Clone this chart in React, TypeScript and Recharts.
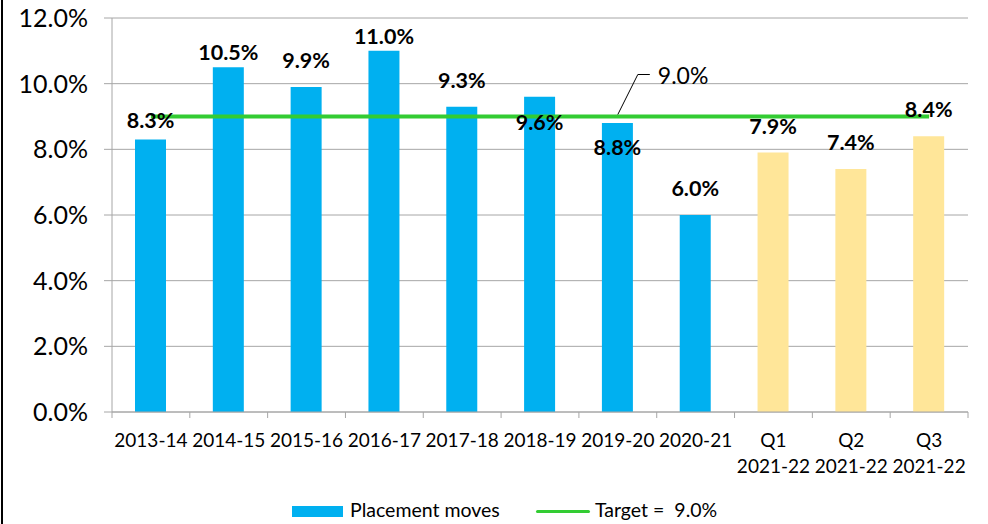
import React from 'react';
import { ComposedChart, Bar, Line, XAxis, YAxis, CartesianGrid, Cell, LabelList, Legend } from 'recharts';

const categories = [
  '2013-14', '2014-15', '2015-16', '2016-17', '2017-18', '2018-19',
  '2019-20', '2020-21', 'Q1\n2021-22', 'Q2\n2021-22', 'Q3\n2021-22',
];
const placementMoves = [8.3, 10.5, 9.9, 11.0, 9.3, 9.6, 8.8, 6.0, 7.9, 7.4, 8.4];
const targetValues = [9.0, 9.0, 9.0, 9.0, 9.0, 9.0, 9.0, 9.0, 9.0, 9.0, 9.0];
const yTicks = [0, 2, 4, 6, 8, 10, 12];

const FONT = 'Lato, "Open Sans", sans-serif';
const BLUE = '#00B0F0';
const YELLOW = '#FFE699';
const GREEN = '#33CC33';
const GRID = '#A6A6A6';
const BAND = (968 - 112) / categories.length;
const TARGET_LABEL_INDEX = 6;

// gap between label baseline and bar top (negative = drawn inside the bar)
const labelGap: Record<number, number> = { 0: 11, 1: 7, 3: 7, 5: -33, 6: -32 };

const data = categories.map((name, i) => ({
  name,
  value: placementMoves[i],
  target: targetValues[i],
}));

const pct = (v: number) => `${v.toFixed(1)}%`;

const XTick = (props: any) => {
  const { x, y, payload, index } = props;
  const lines = String(payload.value).split('\n');
  const axisY = y - 8;
  return (
    <g>
      <line x1={x - BAND / 2} y1={axisY} x2={x - BAND / 2} y2={axisY + 6} stroke={GRID} />
      {index === categories.length - 1 && (
        <line x1={x + BAND / 2} y1={axisY} x2={x + BAND / 2} y2={axisY + 6} stroke={GRID} />
      )}
      <text x={x} y={axisY + 35} textAnchor="middle" fontSize={19} fontFamily={FONT} fill="#000">
        {lines.map((l, i) => (
          <tspan key={i} x={x} dy={i === 0 ? 0 : 26}>{l}</tspan>
        ))}
      </text>
    </g>
  );
};

const BarLabel = (props: any) => {
  const { x, y, width, value, index } = props;
  const gap = labelGap[index] ?? 19;
  return (
    <text x={x + width / 2} y={y - gap} textAnchor="middle" fontSize={21.5} fontWeight="bold" fontFamily={FONT} fill="#000">
      {pct(value)}
    </text>
  );
};

const TargetLabel = (props: any) => {
  const { x, y, value, index } = props;
  if (index !== TARGET_LABEL_INDEX) return null;
  return (
    <g>
      <polyline points={`${x},${y - 2} ${x + 20},${y - 42} ${x + 32},${y - 42}`} fill="none" stroke="#000" strokeWidth={1} />
      <text x={x + 40} y={y - 33} fontSize={23} fontFamily={FONT} fill="#000">{pct(value)}</text>
    </g>
  );
};

const LegendContent = () => (
  <div style={{ position: 'relative', height: 26, fontFamily: FONT, fontSize: 19.5, color: '#000' }}>
    <div style={{ position: 'absolute', left: 292, top: 9, width: 51, height: 11, background: BLUE }} />
    <span style={{ position: 'absolute', left: 350, top: 1, whiteSpace: 'pre' }}>Placement moves</span>
    <div style={{ position: 'absolute', left: 536, top: 13, width: 54, height: 3, background: GREEN, borderRadius: 2 }} />
    <span style={{ position: 'absolute', left: 595, top: 1, whiteSpace: 'pre' }}>{'Target =  9.0%'}</span>
  </div>
);

export default function App() {
  return (
    <div style={{ position: 'absolute', left: 0, top: 0, width: 988, height: 524, background: '#fff' }}>
      <div style={{ position: 'absolute', left: 1, top: 0, width: 2, height: 524, background: '#000' }} />
      <ComposedChart width={988} height={524} data={data} margin={{ top: 18, right: 20, left: 0, bottom: 40 }}>
        <CartesianGrid vertical={false} stroke={GRID} />
        <XAxis
          dataKey="name"
          interval={0}
          height={72}
          axisLine={{ stroke: GRID }}
          tickLine={false}
          tickSize={6}
          tickMargin={2}
          tick={<XTick />}
        />
        <YAxis
          width={112}
          domain={[0, 12]}
          ticks={yTicks}
          interval={0}
          tickFormatter={pct}
          axisLine={{ stroke: GRID }}
          tickLine={{ stroke: GRID }}
          tickSize={8}
          tickMargin={16}
          tick={{ fontSize: 25, fill: '#000', fontFamily: FONT }}
        />
        <Bar dataKey="value" barSize={31} isAnimationActive={false}>
          {data.map((d, i) => (
            <Cell key={i} fill={d.name.startsWith('Q') ? YELLOW : BLUE} />
          ))}
          <LabelList dataKey="value" content={<BarLabel />} />
        </Bar>
        <Line dataKey="target" stroke={GREEN} strokeWidth={4} dot={false} activeDot={false} isAnimationActive={false}>
          <LabelList dataKey="target" content={<TargetLabel />} />
        </Line>
        <Legend
          layout="horizontal"
          verticalAlign="middle"
          align="center"
          content={<LegendContent />}
          wrapperStyle={{ top: 497, left: 0, width: 988 }}
        />
      </ComposedChart>
    </div>
  );
}
